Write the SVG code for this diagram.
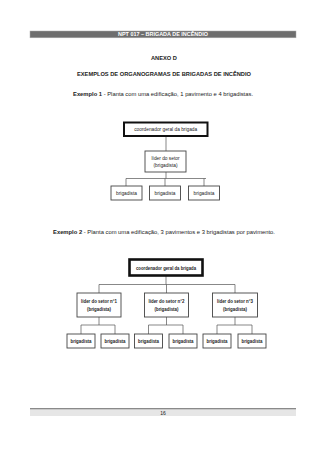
<svg xmlns="http://www.w3.org/2000/svg" width="320" height="453" viewBox="0 0 320 453">
<style>
text{font-family:"Liberation Sans",Arial,sans-serif;fill:#222}
.b{fill:#fff;stroke:#444;stroke-width:0.9}
.tk{fill:#fff;stroke:#111;stroke-width:2}
.tk2{fill:#fff;stroke:#111;stroke-width:2.6}
.ln{stroke:#555;stroke-width:0.7;fill:none}
.s1{font-size:4.8px;text-anchor:middle}
.s2{font-size:5px;text-anchor:middle;font-weight:bold}
</style>
<rect width="320" height="453" fill="#fff"/>
<g id="header">
<rect x="30" y="31" width="266" height="6.8" fill="#6e6e6e" stroke="#aaa" stroke-width="0.5"/>
<text x="163" y="36.2" font-size="4.8" font-weight="bold" text-anchor="middle" style="fill:#fff" textLength="90" lengthAdjust="spacingAndGlyphs">NPT 017 – BRIGADA DE INCÊNDIO</text>
</g>
<text x="164" y="60" font-size="5.6" font-weight="bold" text-anchor="middle" textLength="26" lengthAdjust="spacingAndGlyphs">ANEXO D</text>
<text x="164" y="76" font-size="5.8" font-weight="bold" text-anchor="middle" textLength="174" lengthAdjust="spacingAndGlyphs">EXEMPLOS DE ORGANOGRAMAS DE BRIGADAS DE INCÊNDIO</text>
<text x="73" y="96" font-size="5.6" textLength="180" lengthAdjust="spacingAndGlyphs"><tspan font-weight="bold">Exemplo 1</tspan> - Planta com uma edificação, 1 pavimento e 4 brigadistas.</text>
<text x="53" y="234" font-size="5.6" textLength="222" lengthAdjust="spacingAndGlyphs"><tspan font-weight="bold">Exemplo 2</tspan> - Planta com uma edificação, 3 pavimentos e 3 brigadistas por pavimento.</text>
<g id="connectors">
<path class="ln" d="M166 136V151M166 172V178.5M126 178.5H206M126 178.5V186M165 178.5V186M204 178.5V186"/>
<path class="ln" d="M166 276V284.5M99 284.5H235M99 284.5V293M166.5 284.5V293M235 284.5V293"/>
<path class="ln" d="M99 317V325M81 325H115M81 325V334M115 325V334"/>
<path class="ln" d="M166.5 317V325M148.5 325H183M148.5 325V334M183 325V334"/>
<path class="ln" d="M235 317V325M217 325H252M217 325V334M252 325V334"/>
</g>
<g id="coord1"><rect class="tk" x="124" y="122.5" width="83.5" height="13.5"/><text class="s1" x="165.7" y="131">coordenador geral da brigada</text></g>
<g id="lider1"><rect class="b" x="145" y="151" width="41" height="21"/><text class="s1" x="165.5" y="160">líder do setor</text><text class="s1" x="165.5" y="167">(brigadista)</text></g>
<g id="b1"><rect class="b" x="111" y="186" width="31" height="14"/><text class="s1" x="126.5" y="194.6">brigadista</text></g>
<g id="b2"><rect class="b" x="149.5" y="186" width="31" height="14"/><text class="s1" x="165" y="194.6">brigadista</text></g>
<g id="b3"><rect class="b" x="188.5" y="186" width="31" height="14"/><text class="s1" x="204" y="194.6">brigadista</text></g>
<g id="coord2"><rect class="tk2" x="129.5" y="259.5" width="73" height="16"/><text class="s2" x="166" y="269.5" textLength="60" lengthAdjust="spacingAndGlyphs">coordenador geral da brigada</text></g>
<g id="lider2a"><rect class="b" x="77" y="293" width="44" height="24"/><text class="s2" x="99" y="302.5" textLength="36" lengthAdjust="spacingAndGlyphs">líder do setor n°1</text><text class="s2" x="99" y="310.5" textLength="24" lengthAdjust="spacingAndGlyphs">(brigadista)</text></g>
<g id="lider2b"><rect class="b" x="144.5" y="293" width="44" height="24"/><text class="s2" x="166.5" y="302.5" textLength="36" lengthAdjust="spacingAndGlyphs">líder do setor n°2</text><text class="s2" x="166.5" y="310.5" textLength="24" lengthAdjust="spacingAndGlyphs">(brigadista)</text></g>
<g id="lider2c"><rect class="b" x="212.5" y="293" width="45" height="24"/><text class="s2" x="235" y="302.5" textLength="36" lengthAdjust="spacingAndGlyphs">líder do setor n°3</text><text class="s2" x="235" y="310.5" textLength="24" lengthAdjust="spacingAndGlyphs">(brigadista)</text></g>
<g id="b2a"><rect class="b" x="67" y="334" width="28" height="14"/><text class="s2" x="81" y="342.8" textLength="21" lengthAdjust="spacingAndGlyphs">brigadista</text></g>
<g id="b2b"><rect class="b" x="101" y="334" width="28" height="14"/><text class="s2" x="115" y="342.8" textLength="21" lengthAdjust="spacingAndGlyphs">brigadista</text></g>
<g id="b2c"><rect class="b" x="134.5" y="334" width="28" height="14"/><text class="s2" x="148.5" y="342.8" textLength="21" lengthAdjust="spacingAndGlyphs">brigadista</text></g>
<g id="b2d"><rect class="b" x="169" y="334" width="28" height="14"/><text class="s2" x="183" y="342.8" textLength="21" lengthAdjust="spacingAndGlyphs">brigadista</text></g>
<g id="b2e"><rect class="b" x="203" y="334" width="28" height="14"/><text class="s2" x="217" y="342.8" textLength="21" lengthAdjust="spacingAndGlyphs">brigadista</text></g>
<g id="b2f"><rect class="b" x="238" y="334" width="28" height="14"/><text class="s2" x="252" y="342.8" textLength="21" lengthAdjust="spacingAndGlyphs">brigadista</text></g>
<g id="footer">
<rect x="30" y="409" width="266" height="7" fill="#e6e6e6"/>
<rect x="30" y="408" width="266" height="1.3" fill="#8a8a8a"/>
<text x="163" y="414.7" font-size="5" text-anchor="middle">16</text>
</g>
</svg>
